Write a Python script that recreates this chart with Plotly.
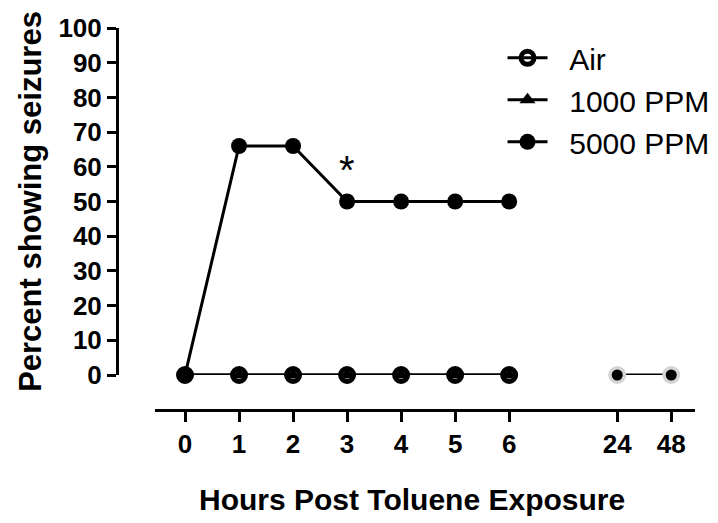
import plotly.graph_objects as go

# Sampling times (hours) and where they sit on the broken x axis
hours_labels = ["0", "1", "2", "3", "4", "5", "6", "24", "48"]
hours_pos = [0, 1, 2, 3, 4, 5, 6, 8, 9]

early_pos = hours_pos[:7]
late_pos = hours_pos[7:]

air_early = [0, 0, 0, 0, 0, 0, 0]
ppm1000_early = [0, 0, 0, 0, 0, 0, 0]
ppm5000_early = [0, 66, 66, 50, 50, 50, 50]
late_values = [0, 0]

y_ticks = list(range(0, 101, 10))
star_hour_pos = 3
star_value = 59

FONT = "Liberation Sans, Arial, sans-serif"
GAP = "\u00a0\u00a0"  # spacing between legend symbol and label

fig = go.Figure()

fig.add_trace(go.Scatter(
    x=early_pos, y=air_early, name=GAP + "Air", mode="lines+markers",
    line=dict(color="black", width=3),
    marker=dict(symbol="circle-open", size=13, color="black", line=dict(width=5)),
    cliponaxis=False, legendrank=1,
))
fig.add_trace(go.Scatter(
    x=early_pos, y=ppm1000_early, name=GAP + "1000 PPM", mode="lines+markers",
    line=dict(color="black", width=3),
    marker=dict(symbol="triangle-up", size=14, color="black"),
    cliponaxis=False, legendrank=2,
))
fig.add_trace(go.Scatter(
    x=early_pos, y=ppm5000_early, name=GAP + "5000 PPM", mode="lines+markers",
    line=dict(color="black", width=3),
    marker=dict(symbol="circle", size=16, color="black"),
    cliponaxis=False, legendrank=3,
))

# 24 h and 48 h follow-up points
fig.add_trace(go.Scatter(
    x=late_pos, y=late_values, mode="lines+markers", showlegend=False,
    line=dict(color="black", width=3),
    marker=dict(symbol="circle", size=18, color="#d4d4d4"),
    cliponaxis=False,
))
fig.add_trace(go.Scatter(
    x=late_pos, y=late_values, mode="markers", showlegend=False,
    marker=dict(symbol="circle", size=11, color="black"),
    cliponaxis=False,
))

fig.add_annotation(
    x=star_hour_pos, y=star_value, text="*", showarrow=False,
    font=dict(family=FONT, size=40, color="black"), yanchor="middle",
)

# x-axis title, placed a little left of the axis centre
fig.add_annotation(
    xref="paper", yref="paper", x=0.511, y=-0.235,
    xanchor="center", yanchor="middle", showarrow=False,
    text="<b>Hours Post Toluene Exposure</b>",
    font=dict(family=FONT, size=30, color="black"),
)

fig.update_layout(
    width=718, height=523,
    margin=dict(l=117, r=23, t=28, b=113, autoexpand=False),
    paper_bgcolor="white", plot_bgcolor="white",
    font=dict(family=FONT, color="black"),
    xaxis=dict(
        domain=[0.0657, 1], range=[-0.556, 9.44],
        anchor="free", position=0,
        tickmode="array", tickvals=hours_pos, ticktext=hours_labels,
        showline=True, linecolor="black", linewidth=3,
        ticks="outside", ticklen=10, tickwidth=3, tickcolor="black",
        showgrid=False, zeroline=False,
        tickfont=dict(family=FONT, size=26, color="black", weight="bold"),
    ),
    yaxis=dict(
        domain=[0.0916, 1], range=[0, 100],
        anchor="free", position=0,
        tickmode="array", tickvals=y_ticks,
        showline=True, linecolor="black", linewidth=3,
        ticks="outside", ticklen=9, tickwidth=3, tickcolor="black",
        showgrid=False, zeroline=False,
        tickfont=dict(family=FONT, size=26, color="black", weight="bold"),
        title=dict(text="<b>Percent showing seizures</b>",
                   font=dict(family=FONT, size=31, color="black"), standoff=6),
    ),
    legend=dict(
        x=0.667, y=0.99, xanchor="left", yanchor="top",
        font=dict(family=FONT, size=30, color="black"),
        bgcolor="rgba(0,0,0,0)", itemwidth=40,
    ),
)

fig.write_html("out.html")
